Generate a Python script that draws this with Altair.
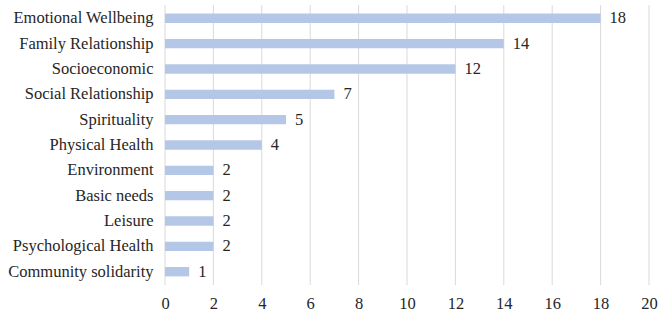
import altair as alt
import pandas as pd

categories = ["Emotional Wellbeing ", "Family Relationship", "Socioeconomic", "Social Relationship ",
              "Spirituality", "Physical Health", "Environment", "Basic needs", "Leisure ",
              "Psychological Health", "Community solidarity"]
values = [18, 14, 12, 7, 5, 4, 2, 2, 2, 2, 1]
x_ticks = [0, 2, 4, 6, 8, 10, 12, 14, 16, 18, 20]

df = pd.DataFrame({"cat": categories, "val": values})
ticks_df = pd.DataFrame({"t": x_ticks})
FONT = "Liberation Serif"
FS = 16.5

xscale = alt.Scale(domain=[0, 20])
xaxis = alt.Axis(values=x_ticks, domain=False, ticks=False, grid=False,
                 labelFont=FONT, labelFontSize=FS,
                 labelColor="#262626", labelPadding=10, labelFlush=False)
y = alt.Y("cat:N", sort=categories, title=None,
          scale=alt.Scale(paddingInner=0.63, paddingOuter=0.34),
          axis=alt.Axis(domain=False, ticks=False, labelFont=FONT, labelFontSize=FS,
                        labelColor="#262626", labelPadding=12, labelLimit=300))

grid = alt.Chart(ticks_df).mark_rule(color="#d9d9d9", strokeWidth=1).encode(
    x=alt.X("t:Q", scale=xscale, axis=xaxis, title=None))
bars = alt.Chart(df).mark_bar(color="#B4C7E7").encode(
    x=alt.X("val:Q", scale=xscale, title=None), y=y)
text = alt.Chart(df).mark_text(align="left", dx=9, font=FONT, fontSize=FS,
                               color="#262626").encode(
    x="val:Q", y=alt.Y("cat:N", sort=categories), text="val:Q")

chart = (grid + bars + text).properties(
    width=484, height=280,
    autosize=alt.AutoSizeParams(type="none"),
    padding={"left": 165, "top": 5, "right": 20, "bottom": 32},
).configure_view(stroke=None)

chart.save("out.html", embed_options={"renderer": "svg", "actions": False})
